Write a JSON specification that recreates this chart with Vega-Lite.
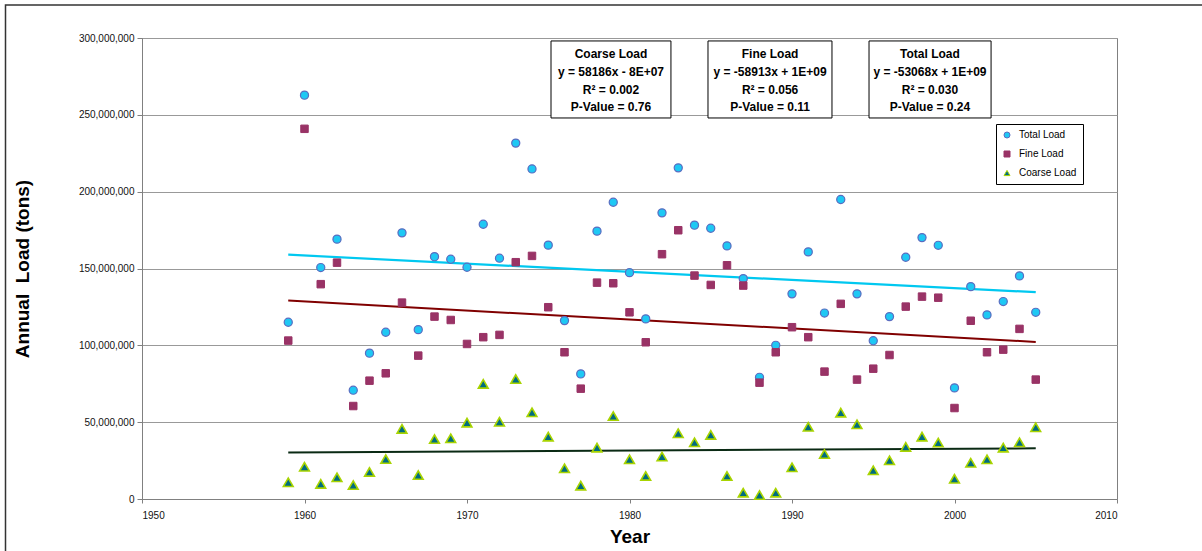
{
  "$schema": "https://vega.github.io/schema/vega-lite/v6.json",
  "width": 975,
  "height": 461,
  "autosize": "none",
  "padding": {"left": 142, "top": 38, "right": 85, "bottom": 52},
  "background": "white",
  "config": {
    "font": "Liberation Sans",
    "view": {"stroke": "#808080", "strokeWidth": 1},
    "axis": {
      "labelFont": "Liberation Sans",
      "labelFontSize": 10,
      "labelColor": "#111",
      "titleFont": "Liberation Sans",
      "titleFontSize": 19,
      "titleFontWeight": "bold",
      "titleColor": "#000",
      "domainColor": "#808080",
      "tickColor": "#808080",
      "gridColor": "#999999"
    },
    "legend": {
      "strokeColor": "#000000",
      "fillColor": "white",
      "padding": 6,
      "labelFont": "Liberation Sans",
      "labelFontSize": 10,
      "labelColor": "#000",
      "labelOffset": 7,
      "rowPadding": 9,
      "symbolSize": 36,
      "symbolStrokeWidth": 1
    }
  },
  "datasets": {
    "loads": [
      {"year": 1959, "series": "Total Load", "value": 115000000},
      {"year": 1960, "series": "Total Load", "value": 262800000},
      {"year": 1961, "series": "Total Load", "value": 150600000},
      {"year": 1962, "series": "Total Load", "value": 169100000},
      {"year": 1963, "series": "Total Load", "value": 70800000},
      {"year": 1964, "series": "Total Load", "value": 94900000},
      {"year": 1965, "series": "Total Load", "value": 108500000},
      {"year": 1966, "series": "Total Load", "value": 173200000},
      {"year": 1967, "series": "Total Load", "value": 110200000},
      {"year": 1968, "series": "Total Load", "value": 157700000},
      {"year": 1969, "series": "Total Load", "value": 156000000},
      {"year": 1970, "series": "Total Load", "value": 150800000},
      {"year": 1971, "series": "Total Load", "value": 178800000},
      {"year": 1972, "series": "Total Load", "value": 156700000},
      {"year": 1973, "series": "Total Load", "value": 231600000},
      {"year": 1974, "series": "Total Load", "value": 214800000},
      {"year": 1975, "series": "Total Load", "value": 165200000},
      {"year": 1976, "series": "Total Load", "value": 116100000},
      {"year": 1977, "series": "Total Load", "value": 81400000},
      {"year": 1978, "series": "Total Load", "value": 174300000},
      {"year": 1979, "series": "Total Load", "value": 193100000},
      {"year": 1980, "series": "Total Load", "value": 147300000},
      {"year": 1981, "series": "Total Load", "value": 117200000},
      {"year": 1982, "series": "Total Load", "value": 186200000},
      {"year": 1983, "series": "Total Load", "value": 215500000},
      {"year": 1984, "series": "Total Load", "value": 178200000},
      {"year": 1985, "series": "Total Load", "value": 176200000},
      {"year": 1986, "series": "Total Load", "value": 164700000},
      {"year": 1987, "series": "Total Load", "value": 143400000},
      {"year": 1988, "series": "Total Load", "value": 79200000},
      {"year": 1989, "series": "Total Load", "value": 100000000},
      {"year": 1990, "series": "Total Load", "value": 133500000},
      {"year": 1991, "series": "Total Load", "value": 160800000},
      {"year": 1992, "series": "Total Load", "value": 121000000},
      {"year": 1993, "series": "Total Load", "value": 194900000},
      {"year": 1994, "series": "Total Load", "value": 133500000},
      {"year": 1995, "series": "Total Load", "value": 103000000},
      {"year": 1996, "series": "Total Load", "value": 118700000},
      {"year": 1997, "series": "Total Load", "value": 157300000},
      {"year": 1998, "series": "Total Load", "value": 170100000},
      {"year": 1999, "series": "Total Load", "value": 165100000},
      {"year": 2000, "series": "Total Load", "value": 72300000},
      {"year": 2001, "series": "Total Load", "value": 138200000},
      {"year": 2002, "series": "Total Load", "value": 119800000},
      {"year": 2003, "series": "Total Load", "value": 128500000},
      {"year": 2004, "series": "Total Load", "value": 145200000},
      {"year": 2005, "series": "Total Load", "value": 121500000},
      {"year": 1959, "series": "Fine Load", "value": 103100000},
      {"year": 1960, "series": "Fine Load", "value": 240900000},
      {"year": 1961, "series": "Fine Load", "value": 139800000},
      {"year": 1962, "series": "Fine Load", "value": 153800000},
      {"year": 1963, "series": "Fine Load", "value": 60500000},
      {"year": 1964, "series": "Fine Load", "value": 77000000},
      {"year": 1965, "series": "Fine Load", "value": 81800000},
      {"year": 1966, "series": "Fine Load", "value": 127800000},
      {"year": 1967, "series": "Fine Load", "value": 93300000},
      {"year": 1968, "series": "Fine Load", "value": 118700000},
      {"year": 1969, "series": "Fine Load", "value": 116500000},
      {"year": 1970, "series": "Fine Load", "value": 100900000},
      {"year": 1971, "series": "Fine Load", "value": 105300000},
      {"year": 1972, "series": "Fine Load", "value": 106800000},
      {"year": 1973, "series": "Fine Load", "value": 154100000},
      {"year": 1974, "series": "Fine Load", "value": 158200000},
      {"year": 1975, "series": "Fine Load", "value": 124800000},
      {"year": 1976, "series": "Fine Load", "value": 95500000},
      {"year": 1977, "series": "Fine Load", "value": 71800000},
      {"year": 1978, "series": "Fine Load", "value": 140800000},
      {"year": 1979, "series": "Fine Load", "value": 140400000},
      {"year": 1980, "series": "Fine Load", "value": 121500000},
      {"year": 1981, "series": "Fine Load", "value": 102000000},
      {"year": 1982, "series": "Fine Load", "value": 159300000},
      {"year": 1983, "series": "Fine Load", "value": 174900000},
      {"year": 1984, "series": "Fine Load", "value": 145400000},
      {"year": 1985, "series": "Fine Load", "value": 139300000},
      {"year": 1986, "series": "Fine Load", "value": 152100000},
      {"year": 1987, "series": "Fine Load", "value": 138900000},
      {"year": 1988, "series": "Fine Load", "value": 75700000},
      {"year": 1989, "series": "Fine Load", "value": 95500000},
      {"year": 1990, "series": "Fine Load", "value": 111800000},
      {"year": 1991, "series": "Fine Load", "value": 105300000},
      {"year": 1992, "series": "Fine Load", "value": 82900000},
      {"year": 1993, "series": "Fine Load", "value": 127000000},
      {"year": 1994, "series": "Fine Load", "value": 77700000},
      {"year": 1995, "series": "Fine Load", "value": 84800000},
      {"year": 1996, "series": "Fine Load", "value": 93700000},
      {"year": 1997, "series": "Fine Load", "value": 125200000},
      {"year": 1998, "series": "Fine Load", "value": 131700000},
      {"year": 1999, "series": "Fine Load", "value": 131000000},
      {"year": 2000, "series": "Fine Load", "value": 59200000},
      {"year": 2001, "series": "Fine Load", "value": 116000000},
      {"year": 2002, "series": "Fine Load", "value": 95500000},
      {"year": 2003, "series": "Fine Load", "value": 97200000},
      {"year": 2004, "series": "Fine Load", "value": 110700000},
      {"year": 2005, "series": "Fine Load", "value": 77700000},
      {"year": 1959, "series": "Coarse Load", "value": 10900000},
      {"year": 1960, "series": "Coarse Load", "value": 21000000},
      {"year": 1961, "series": "Coarse Load", "value": 9800000},
      {"year": 1962, "series": "Coarse Load", "value": 14100000},
      {"year": 1963, "series": "Coarse Load", "value": 9100000},
      {"year": 1964, "series": "Coarse Load", "value": 17600000},
      {"year": 1965, "series": "Coarse Load", "value": 26000000},
      {"year": 1966, "series": "Coarse Load", "value": 45600000},
      {"year": 1967, "series": "Coarse Load", "value": 15600000},
      {"year": 1968, "series": "Coarse Load", "value": 39000000},
      {"year": 1969, "series": "Coarse Load", "value": 39500000},
      {"year": 1970, "series": "Coarse Load", "value": 49700000},
      {"year": 1971, "series": "Coarse Load", "value": 74900000},
      {"year": 1972, "series": "Coarse Load", "value": 50300000},
      {"year": 1973, "series": "Coarse Load", "value": 78100000},
      {"year": 1974, "series": "Coarse Load", "value": 56400000},
      {"year": 1975, "series": "Coarse Load", "value": 40600000},
      {"year": 1976, "series": "Coarse Load", "value": 20000000},
      {"year": 1977, "series": "Coarse Load", "value": 8700000},
      {"year": 1978, "series": "Coarse Load", "value": 33400000},
      {"year": 1979, "series": "Coarse Load", "value": 54000000},
      {"year": 1980, "series": "Coarse Load", "value": 25800000},
      {"year": 1981, "series": "Coarse Load", "value": 15000000},
      {"year": 1982, "series": "Coarse Load", "value": 27600000},
      {"year": 1983, "series": "Coarse Load", "value": 42800000},
      {"year": 1984, "series": "Coarse Load", "value": 36900000},
      {"year": 1985, "series": "Coarse Load", "value": 41700000},
      {"year": 1986, "series": "Coarse Load", "value": 15000000},
      {"year": 1987, "series": "Coarse Load", "value": 4100000},
      {"year": 1988, "series": "Coarse Load", "value": 2600000},
      {"year": 1989, "series": "Coarse Load", "value": 4100000},
      {"year": 1990, "series": "Coarse Load", "value": 20600000},
      {"year": 1991, "series": "Coarse Load", "value": 47000000},
      {"year": 1992, "series": "Coarse Load", "value": 29300000},
      {"year": 1993, "series": "Coarse Load", "value": 56200000},
      {"year": 1994, "series": "Coarse Load", "value": 48600000},
      {"year": 1995, "series": "Coarse Load", "value": 18700000},
      {"year": 1996, "series": "Coarse Load", "value": 25200000},
      {"year": 1997, "series": "Coarse Load", "value": 33900000},
      {"year": 1998, "series": "Coarse Load", "value": 40600000},
      {"year": 1999, "series": "Coarse Load", "value": 36700000},
      {"year": 2000, "series": "Coarse Load", "value": 13200000},
      {"year": 2001, "series": "Coarse Load", "value": 23600000},
      {"year": 2002, "series": "Coarse Load", "value": 25800000},
      {"year": 2003, "series": "Coarse Load", "value": 33400000},
      {"year": 2004, "series": "Coarse Load", "value": 36900000},
      {"year": 2005, "series": "Coarse Load", "value": 46700000}
    ],
    "trends": [
      {"series": "Total Load", "year": 1959, "value": 159000000},
      {"series": "Total Load", "year": 2005, "value": 134600000},
      {"series": "Fine Load", "year": 1959, "value": 129100000},
      {"series": "Fine Load", "year": 2005, "value": 102200000},
      {"series": "Coarse Load", "year": 1959, "value": 30200000},
      {"series": "Coarse Load", "year": 2005, "value": 33000000}
    ]
  },
  "layer": [
    {
      "data": {"values": [{}]},
      "mark": {"type": "rect", "fill": null, "stroke": "#333333", "strokeWidth": 1.5},
      "encoding": {
        "x": {"datum": 1941.6, "type": "quantitative", "title": "Year"},
        "x2": {"datum": 2040},
        "y": {"datum": 321500000, "type": "quantitative", "title": "Annual \u00a0Load (tons)"},
        "y2": {"datum": -100000000}
      }
    },
    {
      "data": {"name": "trends"},
      "transform": [{"filter": "datum.series === 'Total Load'"}],
      "mark": {"type": "line", "color": "#00C8F0", "strokeWidth": 2.2},
      "encoding": {
        "x": {"field": "year", "type": "quantitative", "title": "Year"},
        "y": {"field": "value", "type": "quantitative", "title": "Annual \u00a0Load (tons)"}
      }
    },
    {
      "data": {"name": "trends"},
      "transform": [{"filter": "datum.series === 'Fine Load'"}],
      "mark": {"type": "line", "color": "#800000", "strokeWidth": 2},
      "encoding": {
        "x": {"field": "year", "type": "quantitative", "title": "Year"},
        "y": {"field": "value", "type": "quantitative", "title": "Annual \u00a0Load (tons)"}
      }
    },
    {
      "data": {"name": "trends"},
      "transform": [{"filter": "datum.series === 'Coarse Load'"}],
      "mark": {"type": "line", "color": "#0A2A14", "strokeWidth": 2},
      "encoding": {
        "x": {"field": "year", "type": "quantitative", "title": "Year"},
        "y": {"field": "value", "type": "quantitative", "title": "Annual \u00a0Load (tons)"}
      }
    },
    {
      "data": {"name": "loads"},
      "transform": [{"filter": "datum.series === 'Total Load'"}],
      "mark": {"type": "point", "filled": true, "opacity": 1, "strokeWidth": 1.2, "size": 66},
      "encoding": {
        "x": {
          "field": "year",
          "type": "quantitative",
          "title": "Year",
          "scale": {"domain": [1950, 2010], "nice": false, "zero": false},
          "axis": {
            "values": [1950, 1960, 1970, 1980, 1990, 2000, 2010],
            "format": "d",
            "grid": false,
            "tickSize": 4,
            "labelPadding": 7,
            "titlePadding": 7
          }
        },
        "y": {
          "field": "value",
          "type": "quantitative",
          "title": "Annual \u00a0Load (tons)",
          "scale": {"domain": [0, 300000000], "nice": false},
          "axis": {
            "values": [0, 50000000, 100000000, 150000000, 200000000, 250000000, 300000000],
            "format": ",d",
            "grid": true,
            "tickSize": 5,
            "labelPadding": 3,
            "titlePadding": 46
          }
        },
        "fill": {
          "field": "series",
          "type": "nominal",
          "title": null,
          "scale": {"domain": ["Total Load", "Fine Load", "Coarse Load"], "range": ["#1EC8F4", "#993366", "#006C80"]},
          "legend": {"orient": "none", "legendX": 854, "legendY": 86}
        },
        "stroke": {
          "field": "series",
          "type": "nominal",
          "title": null,
          "scale": {"domain": ["Total Load", "Fine Load", "Coarse Load"], "range": ["#5B6CC0", "#993366", "#A8D400"]},
          "legend": {"orient": "none", "legendX": 854, "legendY": 86}
        },
        "shape": {
          "field": "series",
          "type": "nominal",
          "title": null,
          "scale": {"domain": ["Total Load", "Fine Load", "Coarse Load"], "range": ["circle", "square", "triangle-up"]},
          "legend": {"orient": "none", "legendX": 854, "legendY": 86}
        }
      }
    },
    {
      "data": {"name": "loads"},
      "transform": [{"filter": "datum.series === 'Fine Load'"}],
      "mark": {"type": "point", "filled": true, "opacity": 1, "strokeWidth": 1, "size": 56},
      "encoding": {
        "x": {"field": "year", "type": "quantitative", "title": "Year"},
        "y": {"field": "value", "type": "quantitative", "title": "Annual \u00a0Load (tons)"},
        "fill": {"field": "series", "type": "nominal", "title": null},
        "stroke": {"field": "series", "type": "nominal", "title": null},
        "shape": {"field": "series", "type": "nominal", "title": null}
      }
    },
    {
      "data": {"name": "loads"},
      "transform": [{"filter": "datum.series === 'Coarse Load'"}],
      "mark": {"type": "point", "filled": true, "opacity": 1, "strokeWidth": 1.6, "size": 95},
      "encoding": {
        "x": {"field": "year", "type": "quantitative", "title": "Year"},
        "y": {"field": "value", "type": "quantitative", "title": "Annual \u00a0Load (tons)"},
        "fill": {"field": "series", "type": "nominal", "title": null},
        "stroke": {"field": "series", "type": "nominal", "title": null},
        "shape": {"field": "series", "type": "nominal", "title": null}
      }
    },
    {
      "data": {"values": [{}]},
      "mark": {"type": "rect", "fill": "white", "stroke": "#000000", "strokeWidth": 1},
      "encoding": {
        "x": {"datum": 1975.17, "type": "quantitative", "title": "Year"},
        "x2": {"datum": 1982.55},
        "y": {"datum": 298070000, "type": "quantitative", "title": "Annual \u00a0Load (tons)"},
        "y2": {"datum": 247950000}
      }
    },
    {
      "data": {"values": [{}]},
      "mark": {"type": "rect", "fill": "white", "stroke": "#000000", "strokeWidth": 1},
      "encoding": {
        "x": {"datum": 1984.83, "type": "quantitative", "title": "Year"},
        "x2": {"datum": 1992.46},
        "y": {"datum": 298070000, "type": "quantitative", "title": "Annual \u00a0Load (tons)"},
        "y2": {"datum": 247950000}
      }
    },
    {
      "data": {"values": [{}]},
      "mark": {"type": "rect", "fill": "white", "stroke": "#000000", "strokeWidth": 1},
      "encoding": {
        "x": {"datum": 1994.74, "type": "quantitative", "title": "Year"},
        "x2": {"datum": 2002.25},
        "y": {"datum": 298070000, "type": "quantitative", "title": "Annual \u00a0Load (tons)"},
        "y2": {"datum": 247950000}
      }
    },
    {
      "data": {"values": [{}]},
      "mark": {"type": "text", "text": ["Coarse Load", "y = 58186x - 8E+07", "R² = 0.002", "P-Value = 0.76"], "fontSize": 12, "fontWeight": "bold", "lineHeight": 17.8, "align": "center", "baseline": "middle", "color": "#000"},
      "encoding": {
        "x": {"datum": 1978.86, "type": "quantitative", "title": "Year"},
        "y": {"datum": 289600000, "type": "quantitative", "title": "Annual \u00a0Load (tons)"}
      }
    },
    {
      "data": {"values": [{}]},
      "mark": {"type": "text", "text": ["Fine Load", "y = -58913x + 1E+09", "R² = 0.056", "P-Value = 0.11"], "fontSize": 12, "fontWeight": "bold", "lineHeight": 17.8, "align": "center", "baseline": "middle", "color": "#000"},
      "encoding": {
        "x": {"datum": 1988.65, "type": "quantitative", "title": "Year"},
        "y": {"datum": 289600000, "type": "quantitative", "title": "Annual \u00a0Load (tons)"}
      }
    },
    {
      "data": {"values": [{}]},
      "mark": {"type": "text", "text": ["Total Load", "y = -53068x + 1E+09", "R² = 0.030", "P-Value = 0.24"], "fontSize": 12, "fontWeight": "bold", "lineHeight": 17.8, "align": "center", "baseline": "middle", "color": "#000"},
      "encoding": {
        "x": {"datum": 1998.49, "type": "quantitative", "title": "Year"},
        "y": {"datum": 289600000, "type": "quantitative", "title": "Annual \u00a0Load (tons)"}
      }
    }
  ]
}
